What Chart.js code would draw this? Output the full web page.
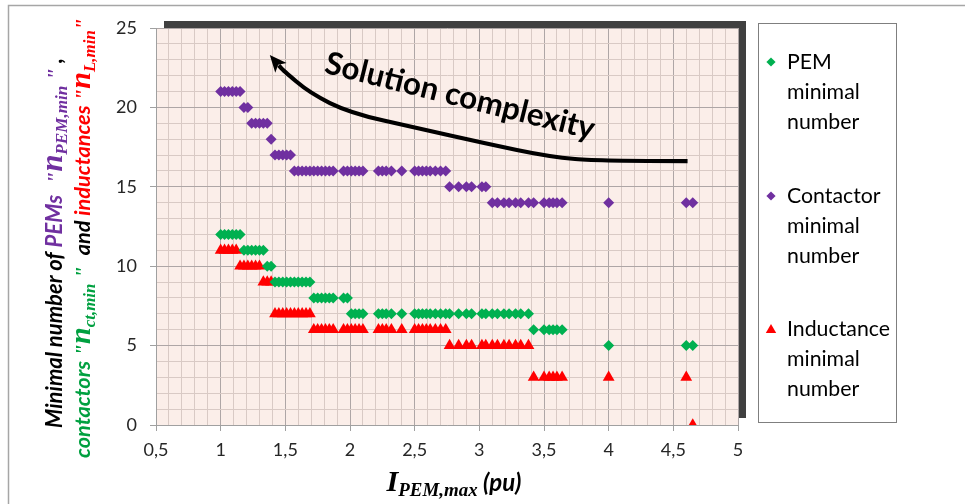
<!DOCTYPE html>
<html>
<head>
<meta charset="utf-8">
<script src="https://cdn.jsdelivr.net/npm/chart.js@4.4.1/dist/chart.umd.min.js"></script>
<style>
  html, body { margin: 0; padding: 0; background: #ffffff; }
  #wrap { width: 965px; height: 504px; position: relative; overflow: hidden; }
  canvas { display: block; }
</style>
</head>
<body>
<div id="wrap"><canvas id="c" width="965" height="504"></canvas></div>
<script>
// ---------------- DATA ----------------
const xVals = [1.00,1.03,1.06,1.09,1.12,1.15,1.18,1.21,1.24,1.27,1.30,1.33,1.36,1.39,
  1.42,1.45,1.48,1.51,1.54,1.57,1.60,1.63,1.66,1.69,
  1.72,1.75,1.78,1.81,1.84,1.87,1.95,1.98,
  2.01,2.04,2.07,2.10,2.22,2.25,2.28,2.32,2.40,
  2.50,2.53,2.56,2.59,2.62,2.66,2.70,2.74,
  2.77,2.84,2.90,2.94,3.02,3.05,
  3.10,3.14,3.19,3.23,3.28,3.32,3.38,
  3.42,3.50,3.54,3.57,3.60,3.64,
  4.00,4.60,4.65];
const pemMin = [12,12,12,12,12,12,11,11,11,11,11,11,10,10,
  9,9,9,9,9,9,9,9,9,9,
  8,8,8,8,8,8,8,8,
  7,7,7,7,7,7,7,7,7,
  7,7,7,7,7,7,7,7,
  7,7,7,7,7,7,
  7,7,7,7,7,7,7,
  6,6,6,6,6,6,
  5,5,5];
const contactorMin = [21,21,21,21,21,21,20,20,19,19,19,19,19,18,
  17,17,17,17,17,16,16,16,16,16,
  16,16,16,16,16,16,16,16,
  16,16,16,16,16,16,16,16,16,
  16,16,16,16,16,16,16,16,
  15,15,15,15,15,15,
  14,14,14,14,14,14,14,
  14,14,14,14,14,14,
  14,14,14];
const inductanceMin = [11,11,11,11,11,10,10,10,10,10,10,9,9,9,
  7,7,7,7,7,7,7,7,7,7,
  6,6,6,6,6,6,6,6,
  6,6,6,6,6,6,6,6,6,
  6,6,6,6,6,6,6,6,
  5,5,5,5,5,5,
  5,5,5,5,5,5,5,
  3,3,3,3,3,3,
  3,3,0];
const seriesNames = ['PEM minimal number', 'Contactor minimal number', 'Inductance minimal number'];
const legendLines = [['PEM','minimal','number'], ['Contactor','minimal','number'], ['Inductance','minimal','number']];
const xMin = 0.5, xMax = 5, xMinorStep = 0.1, xMajorStep = 0.5;
const yMin = 0, yMax = 25, yMinorStep = 1, yMajorStep = 5;
// annotation arrow ("Solution complexity"), in data units
const arrowPath = [[4.61,16.62],[3.93,16.62],[3.55,16.88],[3.03,17.76],[2.52,18.7],[2.0,19.65],[1.69,20.9],[1.48,22.36],[1.38,23.3]];
const arrowLabel = 'Solution complexity';
const arrowLabelPos = [2.85, 20.7];

// ---------------- STYLE ----------------
const GREEN = '#00B050', PURPLE = '#7030A0', RED = '#FF0000';
const GREEN_TXT = '#00A040';
const PLOT_BG = '#fbeee9';
const MINOR_GRID = '#d9cac5';
const MAJOR_GRID = '#aea6a6';

function isMult(v, step) { const r = v / step; return Math.abs(r - Math.round(r)) < 1e-6; }
function fmt(v) { return String(Math.round(v * 10) / 10).replace('.', ','); }

function fontOf(g, s) { return (g.style || '') + ' ' + (g.size * s).toFixed(2) + 'px ' + g.fam; }
function richWidth(ctx, segs, s) {
  let w = 0;
  for (const g of segs) { ctx.font = fontOf(g, s); w += ctx.measureText(g.t).width; }
  return w;
}
function drawRich(ctx, segs, cx, cy, angle, target) {
  const s = target ? target / richWidth(ctx, segs, 1) : 1;
  const w = richWidth(ctx, segs, s);
  ctx.save();
  ctx.translate(cx, cy);
  ctx.rotate(angle);
  ctx.textBaseline = 'alphabetic';
  ctx.textAlign = 'left';
  let x = -w / 2;
  for (const g of segs) {
    ctx.font = fontOf(g, s);
    ctx.fillStyle = g.color;
    ctx.fillText(g.t, x, (g.dy || 0) * s);
    x += ctx.measureText(g.t).width;
  }
  ctx.restore();
}

const SANS = 'Lato';
const SERIF = '"Liberation Serif"';
const BI = 'italic bold';

const yTitle1 = [
  {t:'Minimal number of ', fam:SANS, size:18, style:BI, color:'#000'},
  {t:'PEMs', fam:SANS, size:18, style:BI, color:PURPLE},
  {t:'  "', fam:SERIF, size:18, style:BI, color:PURPLE},
  {t:'n', fam:SERIF, size:25, style:BI, color:PURPLE},
  {t:'PEM,min', fam:SERIF, size:14, style:BI, color:PURPLE, dy:4},
  {t:' "', fam:SERIF, size:18, style:BI, color:PURPLE},
  {t:' ,', fam:SANS, size:18, style:BI, color:'#000'}
];
const yTitle2 = [
  {t:'contactors ', fam:SANS, size:18, style:BI, color:GREEN_TXT},
  {t:'"', fam:SERIF, size:18, style:BI, color:GREEN_TXT},
  {t:'n', fam:SERIF, size:25, style:BI, color:GREEN_TXT},
  {t:'ct,min', fam:SERIF, size:14, style:BI, color:GREEN_TXT, dy:4},
  {t:' "  ', fam:SERIF, size:18, style:BI, color:GREEN_TXT},
  {t:'and ', fam:SANS, size:18, style:BI, color:'#000'},
  {t:'inductances ', fam:SANS, size:18, style:BI, color:RED},
  {t:'"', fam:SERIF, size:18, style:BI, color:RED},
  {t:'n', fam:SERIF, size:25, style:BI, color:RED},
  {t:'L,min', fam:SERIF, size:14, style:BI, color:RED, dy:4},
  {t:'"', fam:SERIF, size:18, style:BI, color:RED}
];
const xTitle = [
  {t:'I', fam:SERIF, size:24, style:BI, color:'#000'},
  {t:'PEM,max', fam:SERIF, size:15, style:BI, color:'#000', dy:4},
  {t:' (pu)', fam:SANS, size:19, style:BI, color:'#000'}
];

const decorPlugin = {
  id: 'decor',
  beforeDraw(chart) {
    const ctx = chart.ctx, a = chart.chartArea;
    ctx.save();
    // outer frame
    ctx.strokeStyle = '#a6a6a6';
    ctx.lineWidth = 1.5;
    ctx.beginPath();
    ctx.moveTo(8.5, 504); ctx.lineTo(8.5, 5.5); ctx.lineTo(965, 5.5);
    ctx.stroke();
    // shadow
    ctx.fillStyle = '#404040';
    ctx.fillRect(a.left + 8, a.top - 7, a.right - a.left, a.bottom - a.top);
    // plot background
    ctx.fillStyle = PLOT_BG;
    ctx.fillRect(a.left, a.top, a.right - a.left, a.bottom - a.top);
    ctx.restore();
  },
  afterDraw(chart) {
    const ctx = chart.ctx, xs = chart.scales.x, ys = chart.scales.y;
    // axis titles
    drawRich(ctx, xTitle, 454, 491, 0, 135);
    drawRich(ctx, yTitle1, 62, 243, -Math.PI / 2, 370);
    drawRich(ctx, yTitle2, 90, 238, -Math.PI / 2, 440);

    // arrow
    const pts = arrowPath.map(p => [xs.getPixelForValue(p[0]), ys.getPixelForValue(p[1])]);
    const tip = pts[pts.length - 1], prev = pts[pts.length - 2];
    let dx = tip[0] - prev[0], dy = tip[1] - prev[1];
    const len = Math.hypot(dx, dy); dx /= len; dy /= len;
    const headLen = 17, headW = 7.5;
    const base = [tip[0] - dx * headLen * 0.8, tip[1] - dy * headLen * 0.8];
    const linePts = pts.slice(0, -1).concat([base]);
    ctx.save();
    ctx.strokeStyle = '#000';
    ctx.lineWidth = 4.2;
    ctx.lineCap = 'butt';
    ctx.lineJoin = 'round';
    ctx.beginPath();
    ctx.moveTo(linePts[0][0], linePts[0][1]);
    for (let i = 1; i < linePts.length - 1; i++) {
      const mx = (linePts[i][0] + linePts[i + 1][0]) / 2, my = (linePts[i][1] + linePts[i + 1][1]) / 2;
      ctx.quadraticCurveTo(linePts[i][0], linePts[i][1], mx, my);
    }
    ctx.lineTo(base[0], base[1]);
    ctx.stroke();
    ctx.fillStyle = '#000';
    ctx.beginPath();
    ctx.moveTo(tip[0], tip[1]);
    ctx.lineTo(tip[0] - dx * headLen - dy * headW, tip[1] - dy * headLen + dx * headW);
    ctx.lineTo(tip[0] - dx * headLen * 0.75, tip[1] - dy * headLen * 0.75);
    ctx.lineTo(tip[0] - dx * headLen + dy * headW, tip[1] - dy * headLen - dx * headW);
    ctx.closePath();
    ctx.fill();
    // label
    const lx = xs.getPixelForValue(arrowLabelPos[0]), ly = ys.getPixelForValue(arrowLabelPos[1]);
    ctx.translate(lx, ly);
    ctx.rotate(14 * Math.PI / 180);
    ctx.font = 'bold 100px ' + SANS;
    const fs = 100 * 277 / ctx.measureText(arrowLabel).width;
    ctx.font = 'bold ' + fs.toFixed(2) + 'px ' + SANS;
    ctx.textAlign = 'center';
    ctx.textBaseline = 'middle';
    ctx.fillStyle = '#000';
    ctx.fillText(arrowLabel, 0, 0);
    ctx.restore();

    // legend
    ctx.save();
    ctx.strokeStyle = '#7f7f7f';
    ctx.lineWidth = 1;
    ctx.strokeRect(758.5, 23.5, 138, 399);
    ctx.font = '100px ' + SANS;
    const lfs = 100 * 103 / ctx.measureText('Inductance').width;
    ctx.font = lfs.toFixed(2) + 'px ' + SANS;
    ctx.textAlign = 'left';
    ctx.textBaseline = 'middle';
    const entryTop = [62, 196, 329];
    chart.data.datasets.forEach((ds, i) => {
      const y0 = entryTop[i];
      ctx.fillStyle = ds.backgroundColor;
      const st = ds.pointStyle;
      const r = st === 'triangle' ? 6 : 4.6;
      if (Chart.helpers && Chart.helpers.drawPoint) {
        Chart.helpers.drawPoint(ctx, {pointStyle: st, radius: r, rotation: 0, borderWidth: 0}, 771, y0 + (st === 'triangle' ? 1 : 0));
      }
      ctx.fillStyle = '#000';
      legendLines[i].forEach((t, k) => ctx.fillText(t, 787, y0 + k * 30));
    });
    ctx.restore();
  }
};

function mkData(ys) { return xVals.map((x, i) => ({x: x, y: ys[i]})); }

const chart = new Chart(document.getElementById('c'), {
  type: 'scatter',
  data: {
    datasets: [
      {label: seriesNames[0], data: mkData(pemMin), pointStyle: 'rectRot', pointRadius: 5.5, pointHoverRadius: 5.5,
       backgroundColor: GREEN, borderColor: GREEN, borderWidth: 0},
      {label: seriesNames[1], data: mkData(contactorMin), pointStyle: 'rectRot', pointRadius: 5.5, pointHoverRadius: 5.5,
       backgroundColor: PURPLE, borderColor: PURPLE, borderWidth: 0},
      {label: seriesNames[2], data: mkData(inductanceMin), pointStyle: 'triangle', pointRadius: 6.8, pointHoverRadius: 6.8,
       backgroundColor: RED, borderColor: RED, borderWidth: 0}
    ]
  },
  options: {
    responsive: false,
    animation: false,
    devicePixelRatio: 1,
    layout: {padding: {left: 0, right: 227, top: 28, bottom: 0}},
    plugins: {legend: {display: false}, tooltip: {enabled: false}},
    scales: {
      x: {
        type: 'linear', min: xMin, max: xMax,
        afterFit(s) { s.height = 79; },
        border: {display: true, color: '#a0a0a0', width: 1},
        grid: {
          color: c => isMult(c.tick.value, xMajorStep) ? MAJOR_GRID : MINOR_GRID,
          tickColor: c => isMult(c.tick.value, xMajorStep) ? '#a0a0a0' : 'rgba(0,0,0,0)',
          tickLength: 6, lineWidth: 1
        },
        ticks: {
          stepSize: xMinorStep, autoSkip: false, maxRotation: 0, padding: 8,
          color: '#262626', font: {family: SANS, size: 18},
          callback: v => isMult(v, xMajorStep) ? fmt(v) : ''
        }
      },
      y: {
        type: 'linear', min: yMin, max: yMax,
        afterFit(s) { s.width = 156; },
        border: {display: true, color: '#a0a0a0', width: 1},
        grid: {
          color: c => isMult(c.tick.value, yMajorStep) ? MAJOR_GRID : MINOR_GRID,
          tickColor: c => isMult(c.tick.value, yMajorStep) ? '#a0a0a0' : 'rgba(0,0,0,0)',
          tickLength: 6, lineWidth: 1
        },
        ticks: {
          stepSize: yMinorStep, autoSkip: false, padding: 13,
          color: '#262626', font: {family: SANS, size: 18},
          callback: v => isMult(v, yMajorStep) ? String(v) : ''
        }
      }
    }
  },
  plugins: [decorPlugin]
});
</script>
</body>
</html>
